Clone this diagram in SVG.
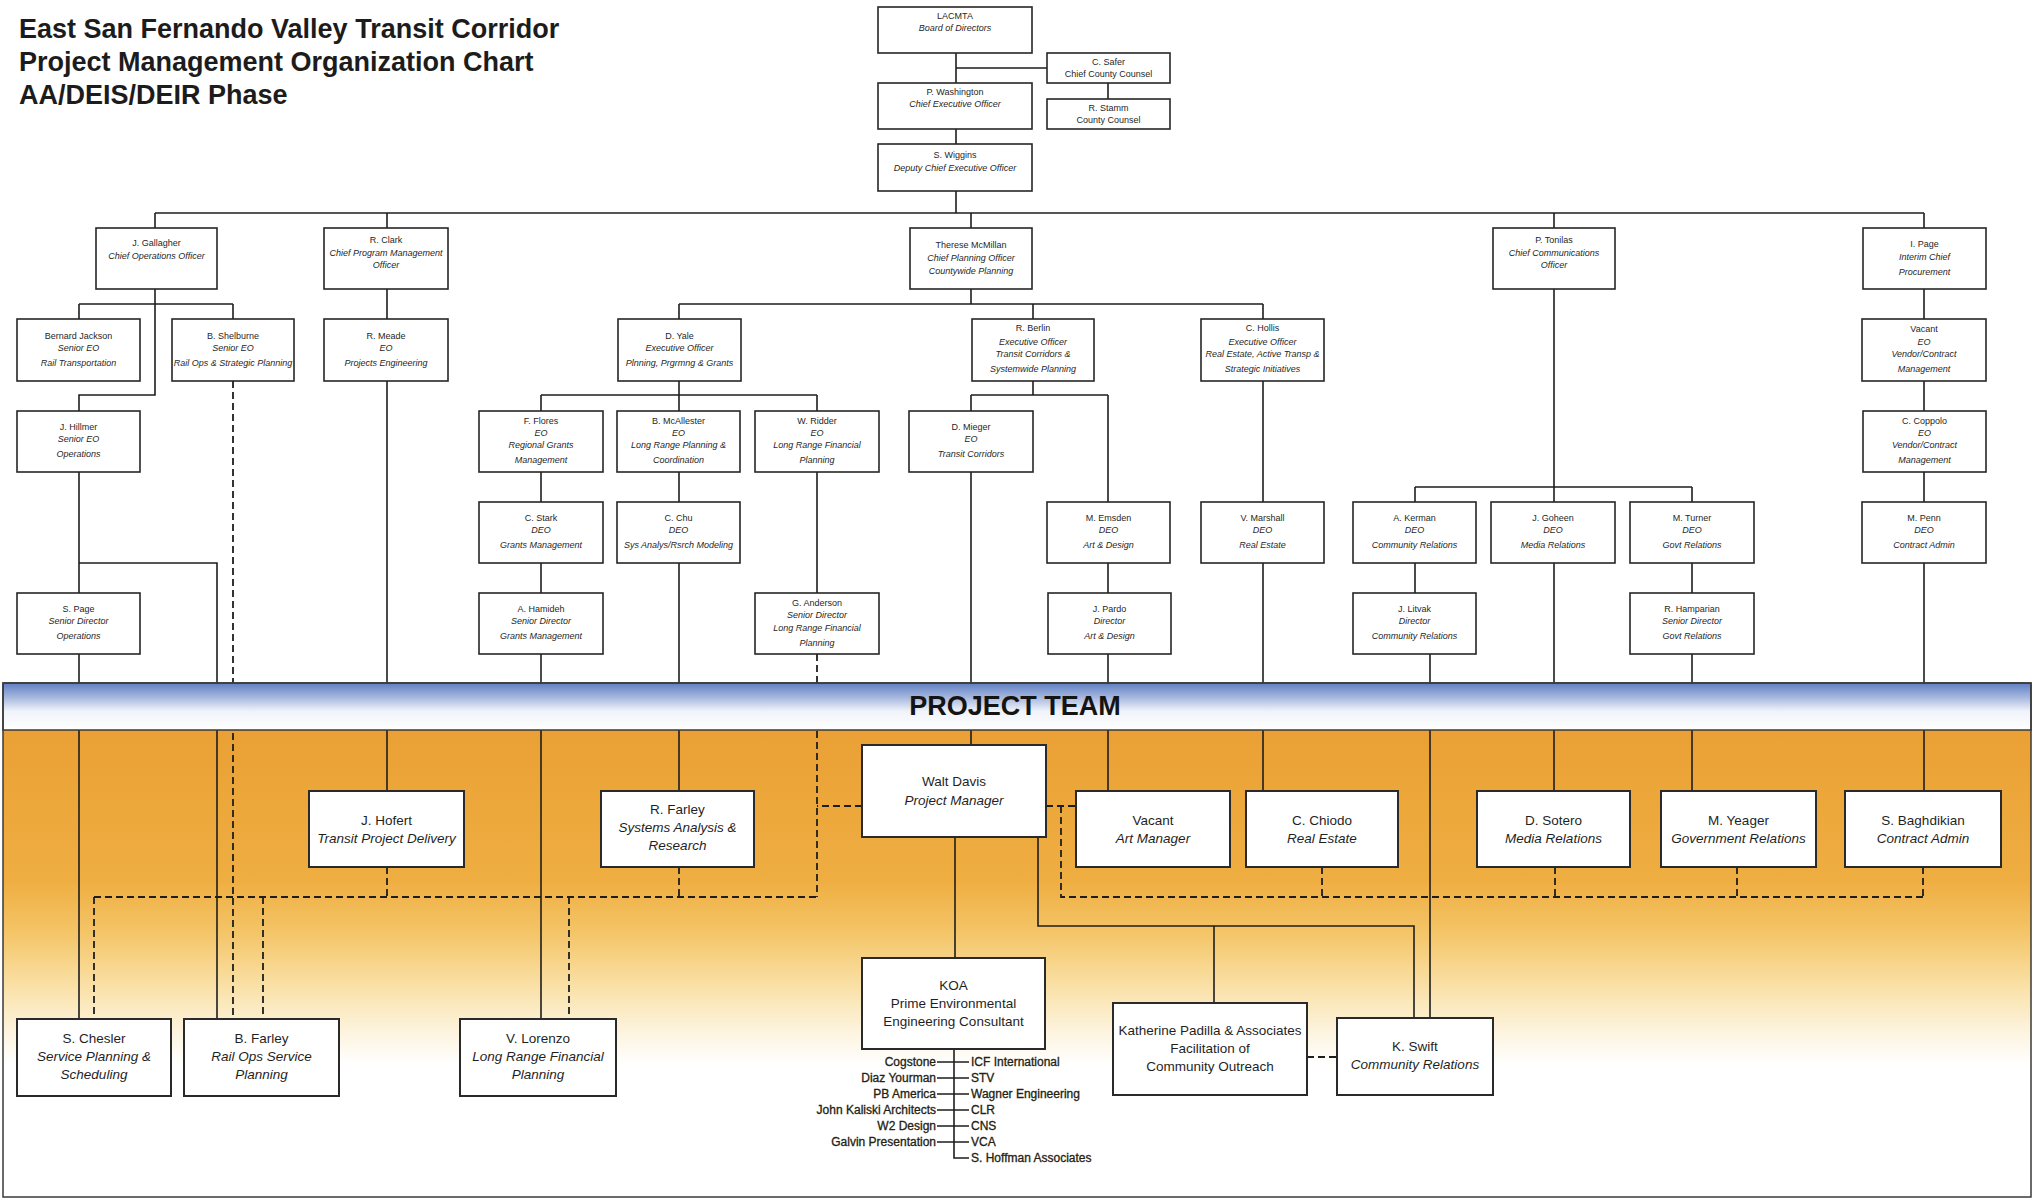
<svg xmlns="http://www.w3.org/2000/svg" width="2034" height="1199" viewBox="0 0 2034 1199">
<defs>
<linearGradient id="teamBg" gradientUnits="userSpaceOnUse" x1="0" y1="730" x2="0" y2="1065">
<stop offset="0" stop-color="#eaa034"/>
<stop offset="0.45" stop-color="#efae42"/>
<stop offset="0.6" stop-color="#f4c466"/>
<stop offset="0.75" stop-color="#f9dea0"/>
<stop offset="0.9" stop-color="#fdf4df"/>
<stop offset="1" stop-color="#ffffff"/>
</linearGradient>
<linearGradient id="bandBg" x1="0" y1="0" x2="0" y2="1">
<stop offset="0" stop-color="#5f7fc2"/>
<stop offset="0.3" stop-color="#a4b6de"/>
<stop offset="0.6" stop-color="#f0f3fa"/>
<stop offset="1" stop-color="#ffffff"/>
</linearGradient>
</defs>
<style>
.b{fill:#fff;stroke:#262626;stroke-width:1.6}
.tb{fill:#fff;stroke:#2a2a2a;stroke-width:2}
.s{font-family:"Liberation Sans",Arial,sans-serif;font-size:9px;text-anchor:middle;fill:#1f1f1f}
.m{font-family:"Liberation Sans",Arial,sans-serif;font-size:13.5px;text-anchor:middle;fill:#1f1f1f}
.i{font-style:italic}
.ln{fill:none;stroke:#1e1e1e;stroke-width:1.6}
.dl{fill:none;stroke:#1e1e1e;stroke-width:1.8;stroke-dasharray:7 4}
.sub{font-family:"Liberation Sans",Arial,sans-serif;font-size:12px;fill:#24220f;stroke:#24220f;stroke-width:0.3}
.ttl{font-family:"Liberation Sans",Arial,sans-serif;font-size:27px;font-weight:bold;fill:#1c1c1c}
</style>
<rect width="2034" height="1199" fill="#fff"/>
<!-- project team background -->
<rect x="3" y="730" width="2028" height="467" fill="url(#teamBg)"/>

<g id="title">
<text class="ttl" x="19" y="38">East San Fernando Valley Transit Corridor</text>
<text class="ttl" x="19" y="71">Project Management Organization Chart</text>
<text class="ttl" x="19" y="104">AA/DEIS/DEIR Phase</text>
</g>

<g id="connectors">
<path class="ln" d="M956 53V83M956 68H1047M1108 83V99M956 129V144M956 191V213
M155 213H1924M155 213V228M387 213V228M971 213V228M1554 213V228M1924 213V228
M155 289V395H79V411M79 304H233M79 304V319M233 304V319
M79 472V593M79 563H217V1019M79 654V1019
M387 289V319M387 381V791
M971 289V304M679 304H1263M679 304V319M1033 304V319M1263 304V319
M679 381V411M541 395H817M541 395V411M817 395V411
M541 472V502M541 563V593M541 654V1019
M679 472V502M679 563V791
M817 472V593
M1033 381V395M971 395H1108M971 395V411M1108 395V502
M971 472V745
M1108 563V593M1108 654V791
M1263 381V502M1263 563V791
M1554 289V502M1415 487H1692M1415 487V502M1692 487V502
M1415 563V593M1430 654V1018
M1554 563V791
M1692 563V593M1692 654V791
M1924 289V319M1924 381V411M1924 472V502M1924 563V791
M955 837V958
M1038 837V926H1414V1018M1214 926V1003
M954 1049V1158H969
M937 1062H969M937 1078H969M937 1094H969M937 1110H969M937 1126H969M937 1142H969"/>
<path class="dl" d="M233 381V1019
M817 654V897M862 806H817M94 897H817M94 897V1019M263 897V1019M569 897V1019M387 867V897M679 867V897
M1046 806H1076M1061 806V897H1923M1322 867V897M1555 867V897M1737 867V897M1923 867V897
M1307 1057H1337"/>
</g>

<g id="band">
<rect x="3" y="683" width="2028" height="47" fill="url(#bandBg)" stroke="#3a3a3a" stroke-width="1.5"/>
<text x="1015" y="715" font-family="'Liberation Sans',Arial,sans-serif" font-size="27" font-weight="bold" text-anchor="middle" fill="#141414">PROJECT TEAM</text>
</g>
<rect x="3" y="683" width="2028" height="514" fill="none" stroke="#3a3a3a" stroke-width="1.5"/>

<!-- executive level -->
<g id="n-lacmta"><rect class="b" x="878" y="7" width="154" height="46"/><text class="s" x="955" y="19">LACMTA</text><text class="s i" x="955" y="31">Board of Directors</text></g>
<g id="n-safer"><rect class="b" x="1047" y="53" width="123" height="30"/><text class="s" x="1108.5" y="65">C. Safer</text><text class="s" x="1108.5" y="77">Chief County Counsel</text></g>
<g id="n-stamm"><rect class="b" x="1047" y="99" width="123" height="30"/><text class="s" x="1108.5" y="111">R. Stamm</text><text class="s" x="1108.5" y="123">County Counsel</text></g>
<g id="n-washington"><rect class="b" x="878" y="83" width="154" height="46"/><text class="s" x="955" y="95">P. Washington</text><text class="s i" x="955" y="107">Chief Executive Officer</text></g>
<g id="n-wiggins"><rect class="b" x="878" y="144" width="154" height="47"/><text class="s" x="955" y="158">S. Wiggins</text><text class="s i" x="955" y="171">Deputy Chief Executive Officer</text></g>

<!-- chiefs -->
<g id="n-gallagher"><rect class="b" x="96" y="228" width="121" height="61"/><text class="s" x="156.5" y="246">J. Gallagher</text><text class="s i" x="156.5" y="259">Chief Operations Officer</text></g>
<g id="n-clark"><rect class="b" x="324" y="228" width="124" height="61"/><text class="s" x="386" y="243">R. Clark</text><text class="s i" x="386" y="256">Chief Program Management</text><text class="s i" x="386" y="268">Officer</text></g>
<g id="n-mcmillan"><rect class="b" x="910" y="228" width="122" height="61"/><text class="s" x="971" y="248">Therese McMillan</text><text class="s i" x="971" y="261">Chief Planning Officer</text><text class="s i" x="971" y="274">Countywide Planning</text></g>
<g id="n-tonilas"><rect class="b" x="1493" y="228" width="122" height="61"/><text class="s" x="1554" y="243">P. Tonilas</text><text class="s i" x="1554" y="256">Chief Communications</text><text class="s i" x="1554" y="268">Officer</text></g>
<g id="n-ipage"><rect class="b" x="1863" y="228" width="123" height="61"/><text class="s" x="1924.5" y="247">I. Page</text><text class="s i" x="1924.5" y="260">Interim Chief</text><text class="s i" x="1924.5" y="275">Procurement</text></g>

<!-- third row -->
<g id="n-jackson"><rect class="b" x="17" y="319" width="123" height="62"/><text class="s" x="78.5" y="339">Bernard Jackson</text><text class="s i" x="78.5" y="351">Senior EO</text><text class="s i" x="78.5" y="366">Rail Transportation</text></g>
<g id="n-shelburne"><rect class="b" x="172" y="319" width="122" height="62"/><text class="s" x="233" y="339">B. Shelburne</text><text class="s i" x="233" y="351">Senior EO</text><text class="s i" x="233" y="366">Rail Ops &amp; Strategic Planning</text></g>
<g id="n-meade"><rect class="b" x="324" y="319" width="124" height="62"/><text class="s" x="386" y="339">R. Meade</text><text class="s i" x="386" y="351">EO</text><text class="s i" x="386" y="366">Projects Engineering</text></g>
<g id="n-yale"><rect class="b" x="618" y="319" width="123" height="62"/><text class="s" x="679.5" y="339">D. Yale</text><text class="s i" x="679.5" y="351">Executive Officer</text><text class="s i" x="679.5" y="366">Plnning, Prgrmng &amp; Grants</text></g>
<g id="n-berlin"><rect class="b" x="972" y="319" width="122" height="62"/><text class="s" x="1033" y="331">R. Berlin</text><text class="s i" x="1033" y="345">Executive Officer</text><text class="s i" x="1033" y="357">Transit Corridors &amp;</text><text class="s i" x="1033" y="372">Systemwide Planning</text></g>
<g id="n-hollis"><rect class="b" x="1201" y="319" width="123" height="62"/><text class="s" x="1262.5" y="331">C. Hollis</text><text class="s i" x="1262.5" y="345">Executive Officer</text><text class="s i" x="1262.5" y="357">Real Estate, Active Transp &amp;</text><text class="s i" x="1262.5" y="372">Strategic Initiatives</text></g>
<g id="n-vacant-eo"><rect class="b" x="1862" y="319" width="124" height="62"/><text class="s" x="1924" y="332">Vacant</text><text class="s i" x="1924" y="345">EO</text><text class="s i" x="1924" y="357">Vendor/Contract</text><text class="s i" x="1924" y="372">Management</text></g>

<!-- fourth row -->
<g id="n-hillmer"><rect class="b" x="17" y="411" width="123" height="61"/><text class="s" x="78.5" y="430">J. Hillmer</text><text class="s i" x="78.5" y="442">Senior EO</text><text class="s i" x="78.5" y="457">Operations</text></g>
<g id="n-flores"><rect class="b" x="479" y="411" width="124" height="61"/><text class="s" x="541" y="424">F. Flores</text><text class="s i" x="541" y="436">EO</text><text class="s i" x="541" y="448">Regional Grants</text><text class="s i" x="541" y="463">Management</text></g>
<g id="n-mcallester"><rect class="b" x="617" y="411" width="123" height="61"/><text class="s" x="678.5" y="424">B. McAllester</text><text class="s i" x="678.5" y="436">EO</text><text class="s i" x="678.5" y="448">Long Range Planning &amp;</text><text class="s i" x="678.5" y="463">Coordination</text></g>
<g id="n-ridder"><rect class="b" x="755" y="411" width="124" height="61"/><text class="s" x="817" y="424">W. Ridder</text><text class="s i" x="817" y="436">EO</text><text class="s i" x="817" y="448">Long Range Financial</text><text class="s i" x="817" y="463">Planning</text></g>
<g id="n-mieger"><rect class="b" x="909" y="411" width="124" height="61"/><text class="s" x="971" y="430">D. Mieger</text><text class="s i" x="971" y="442">EO</text><text class="s i" x="971" y="457">Transit Corridors</text></g>
<g id="n-coppolo"><rect class="b" x="1863" y="411" width="123" height="61"/><text class="s" x="1924.5" y="424">C. Coppolo</text><text class="s i" x="1924.5" y="436">EO</text><text class="s i" x="1924.5" y="448">Vendor/Contract</text><text class="s i" x="1924.5" y="463">Management</text></g>

<!-- fifth row -->
<g id="n-stark"><rect class="b" x="479" y="502" width="124" height="61"/><text class="s" x="541" y="521">C. Stark</text><text class="s i" x="541" y="533">DEO</text><text class="s i" x="541" y="548">Grants Management</text></g>
<g id="n-chu"><rect class="b" x="617" y="502" width="123" height="61"/><text class="s" x="678.5" y="521">C. Chu</text><text class="s i" x="678.5" y="533">DEO</text><text class="s i" x="678.5" y="548">Sys Analys/Rsrch Modeling</text></g>
<g id="n-emsden"><rect class="b" x="1047" y="502" width="123" height="61"/><text class="s" x="1108.5" y="521">M. Emsden</text><text class="s i" x="1108.5" y="533">DEO</text><text class="s i" x="1108.5" y="548">Art &amp; Design</text></g>
<g id="n-marshall"><rect class="b" x="1201" y="502" width="123" height="61"/><text class="s" x="1262.5" y="521">V. Marshall</text><text class="s i" x="1262.5" y="533">DEO</text><text class="s i" x="1262.5" y="548">Real Estate</text></g>
<g id="n-kerman"><rect class="b" x="1353" y="502" width="123" height="61"/><text class="s" x="1414.5" y="521">A. Kerman</text><text class="s i" x="1414.5" y="533">DEO</text><text class="s i" x="1414.5" y="548">Community Relations</text></g>
<g id="n-goheen"><rect class="b" x="1491" y="502" width="124" height="61"/><text class="s" x="1553" y="521">J. Goheen</text><text class="s i" x="1553" y="533">DEO</text><text class="s i" x="1553" y="548">Media Relations</text></g>
<g id="n-turner"><rect class="b" x="1630" y="502" width="124" height="61"/><text class="s" x="1692" y="521">M. Turner</text><text class="s i" x="1692" y="533">DEO</text><text class="s i" x="1692" y="548">Govt Relations</text></g>
<g id="n-penn"><rect class="b" x="1862" y="502" width="124" height="61"/><text class="s" x="1924" y="521">M. Penn</text><text class="s i" x="1924" y="533">DEO</text><text class="s i" x="1924" y="548">Contract Admin</text></g>

<!-- sixth row -->
<g id="n-spage"><rect class="b" x="17" y="593" width="123" height="61"/><text class="s" x="78.5" y="612">S. Page</text><text class="s i" x="78.5" y="624">Senior Director</text><text class="s i" x="78.5" y="639">Operations</text></g>
<g id="n-hamideh"><rect class="b" x="479" y="593" width="124" height="61"/><text class="s" x="541" y="612">A. Hamideh</text><text class="s i" x="541" y="624">Senior Director</text><text class="s i" x="541" y="639">Grants Management</text></g>
<g id="n-anderson"><rect class="b" x="755" y="593" width="124" height="61"/><text class="s" x="817" y="606">G. Anderson</text><text class="s i" x="817" y="618">Senior Director</text><text class="s i" x="817" y="631">Long Range Financial</text><text class="s i" x="817" y="646">Planning</text></g>
<g id="n-pardo"><rect class="b" x="1048" y="593" width="123" height="61"/><text class="s" x="1109.5" y="612">J. Pardo</text><text class="s i" x="1109.5" y="624">Director</text><text class="s i" x="1109.5" y="639">Art &amp; Design</text></g>
<g id="n-litvak"><rect class="b" x="1353" y="593" width="123" height="61"/><text class="s" x="1414.5" y="612">J. Litvak</text><text class="s i" x="1414.5" y="624">Director</text><text class="s i" x="1414.5" y="639">Community Relations</text></g>
<g id="n-hamparian"><rect class="b" x="1630" y="593" width="124" height="61"/><text class="s" x="1692" y="612">R. Hamparian</text><text class="s i" x="1692" y="624">Senior Director</text><text class="s i" x="1692" y="639">Govt Relations</text></g>

<!-- project team -->
<g id="n-davis"><rect class="tb" x="862" y="745" width="184" height="92"/><text class="m" x="954" y="786">Walt Davis</text><text class="m i" x="954" y="805">Project Manager</text></g>
<g id="n-hofert"><rect class="tb" x="309" y="791" width="155" height="76"/><text class="m" x="386.5" y="825">J. Hofert</text><text class="m i" x="386.5" y="843">Transit Project Delivery</text></g>
<g id="n-rfarley"><rect class="tb" x="601" y="791" width="153" height="76"/><text class="m" x="677.5" y="814">R. Farley</text><text class="m i" x="677.5" y="832">Systems Analysis &amp;</text><text class="m i" x="677.5" y="850">Research</text></g>
<g id="n-artmgr"><rect class="tb" x="1076" y="791" width="154" height="76"/><text class="m" x="1153" y="825">Vacant</text><text class="m i" x="1153" y="843">Art Manager</text></g>
<g id="n-chiodo"><rect class="tb" x="1246" y="791" width="152" height="76"/><text class="m" x="1322" y="825">C. Chiodo</text><text class="m i" x="1322" y="843">Real Estate</text></g>
<g id="n-sotero"><rect class="tb" x="1477" y="791" width="153" height="76"/><text class="m" x="1553.5" y="825">D. Sotero</text><text class="m i" x="1553.5" y="843">Media Relations</text></g>
<g id="n-yeager"><rect class="tb" x="1661" y="791" width="155" height="76"/><text class="m" x="1738.5" y="825">M. Yeager</text><text class="m i" x="1738.5" y="843">Government Relations</text></g>
<g id="n-baghdikian"><rect class="tb" x="1845" y="791" width="156" height="76"/><text class="m" x="1923" y="825">S. Baghdikian</text><text class="m i" x="1923" y="843">Contract Admin</text></g>
<g id="n-koa"><rect class="tb" x="862" y="958" width="183" height="91"/><text class="m" x="953.5" y="990">KOA</text><text class="m" x="953.5" y="1008">Prime Environmental</text><text class="m" x="953.5" y="1026">Engineering Consultant</text></g>
<g id="n-padilla"><rect class="tb" x="1113" y="1003" width="194" height="92"/><text class="m" x="1210" y="1035">Katherine Padilla &amp; Associates</text><text class="m" x="1210" y="1053">Facilitation of</text><text class="m" x="1210" y="1071">Community Outreach</text></g>
<g id="n-swift"><rect class="tb" x="1337" y="1018" width="156" height="77"/><text class="m" x="1415" y="1051">K. Swift</text><text class="m i" x="1415" y="1069">Community Relations</text></g>
<g id="n-chesler"><rect class="tb" x="17" y="1019" width="154" height="77"/><text class="m" x="94" y="1043">S. Chesler</text><text class="m i" x="94" y="1061">Service Planning &amp;</text><text class="m i" x="94" y="1079">Scheduling</text></g>
<g id="n-bfarley"><rect class="tb" x="184" y="1019" width="155" height="77"/><text class="m" x="261.5" y="1043">B. Farley</text><text class="m i" x="261.5" y="1061">Rail Ops Service</text><text class="m i" x="261.5" y="1079">Planning</text></g>
<g id="n-lorenzo"><rect class="tb" x="460" y="1019" width="156" height="77"/><text class="m" x="538" y="1043">V. Lorenzo</text><text class="m i" x="538" y="1061">Long Range Financial</text><text class="m i" x="538" y="1079">Planning</text></g>

<!-- KOA subconsultants -->
<g id="n-koa-subs">
<text class="sub" x="936" y="1066" text-anchor="end">Cogstone</text>
<text class="sub" x="936" y="1082" text-anchor="end">Diaz Yourman</text>
<text class="sub" x="936" y="1098" text-anchor="end">PB America</text>
<text class="sub" x="936" y="1114" text-anchor="end">John Kaliski Architects</text>
<text class="sub" x="936" y="1130" text-anchor="end">W2 Design</text>
<text class="sub" x="936" y="1146" text-anchor="end">Galvin Presentation</text>
<text class="sub" x="971" y="1066">ICF International</text>
<text class="sub" x="971" y="1082">STV</text>
<text class="sub" x="971" y="1098">Wagner Engineering</text>
<text class="sub" x="971" y="1114">CLR</text>
<text class="sub" x="971" y="1130">CNS</text>
<text class="sub" x="971" y="1146">VCA</text>
<text class="sub" x="971" y="1162">S. Hoffman Associates</text>
</g>
</svg>
